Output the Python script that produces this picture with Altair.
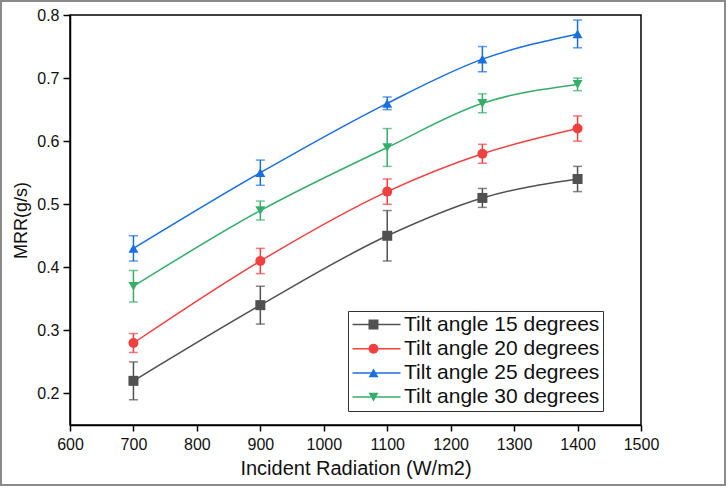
import altair as alt
import pandas as pd

# Incident radiation levels (W/m2)
radiation = [700, 900, 1100, 1250, 1400]

# Mass removal rate (g/s) and error half-widths for each tilt angle
series_names = [
    "Tilt angle 15 degrees",
    "Tilt angle 20 degrees",
    "Tilt angle 25 degrees",
    "Tilt angle 30 degrees",
]
marker_keys = ["15", "20", "25", "30"]
mrr_15 = [0.22, 0.34, 0.45, 0.51, 0.54]
err_15 = [0.03, 0.03, 0.04, 0.015, 0.02]
mrr_20 = [0.28, 0.41, 0.52, 0.58, 0.62]
err_20 = [0.015, 0.02, 0.02, 0.015, 0.02]
mrr_25 = [0.43, 0.55, 0.66, 0.73, 0.77]
err_25 = [0.02, 0.02, 0.01, 0.02, 0.022]
mrr_30 = [0.37, 0.49, 0.59, 0.66, 0.69]
err_30 = [0.025, 0.015, 0.03, 0.015, 0.01]

colors = ["#515151", "#F14040", "#1A6FDF", "#37AD6B"]
shapes = ["square", "circle", "triangle-up", "triangle-down"]

x_ticks = list(range(600, 1501, 50))
y_ticks = [round(0.2 + 0.05 * i, 2) for i in range(13)]

rows = []
for name, key, vals, errs in zip(series_names, marker_keys,
                                 [mrr_15, mrr_20, mrr_25, mrr_30],
                                 [err_15, err_20, err_25, err_30]):
    for r, v, e in zip(radiation, vals, errs):
        rows.append({"radiation": r, "mrr": v, "lo": v - e, "hi": v + e,
                     "series": name, "marker": key})
df = pd.DataFrame(rows)

font = "Liberation Sans"
legend_font_size = 21
legend_row_padding = 2.2

x_major = "datum.value % 100 === 0"
y_major = "abs(datum.value * 10 - round(datum.value * 10)) < 1e-6"

# Major ticks are solid; minor ticks are the same tick cut short by a dash
x_enc = alt.X(
    "radiation:Q",
    scale=alt.Scale(domain=[600, 1500], nice=False, zero=False),
    axis=alt.Axis(
        title="Incident Radiation (W/m2)",
        values=x_ticks,
        format="d",
        labelExpr=f"{x_major} ? datum.label : ''",
        tickSize=6,
        tickDash={"condition": {"test": x_major, "value": [6, 0]}, "value": [3, 20]},
        labelOverlap=False,
        labelFlush=False,
        grid=False,
        labelPadding=5,
        titlePadding=6,
    ),
)
y_scale = alt.Scale(domain=[0.15, 0.8], nice=False, zero=False)
y_axis = alt.Axis(
    title="MRR(g/s)",
    values=y_ticks,
    format=".1f",
    labelExpr=f"{y_major} ? datum.label : ''",
    tickSize=7,
    tickDash={"condition": {"test": y_major, "value": [7, 0]}, "value": [4, 20]},
    labelOverlap=False,
    labelFlush=False,
    grid=False,
    labelPadding=4,
    titlePadding=6,
)

base = alt.Chart(df)

# Legend line sample: a 48 px horizontal stroke around the symbol anchor
line_sample = "M-4.5,0H19.5"

lines = base.mark_line(interpolate="monotone", strokeWidth=1.5).encode(
    x=x_enc,
    y=alt.Y("mrr:Q", scale=y_scale, axis=y_axis),
    stroke=alt.Stroke(
        "series:N",
        scale=alt.Scale(domain=series_names, range=colors),
        legend=alt.Legend(
            title=None,
            orient="none",
            legendX=278,
            legendY=296,
            symbolType=line_sample,
            symbolSize=16,
            symbolStrokeWidth=1.5,
            symbolFillColor="transparent",
            labelFont=font,
            labelFontSize=legend_font_size,
            labelColor="#111111",
            labelLimit=400,
            labelOffset=32,
            rowPadding=legend_row_padding,
            padding=3,
            strokeColor="#333333",
            fillColor="white",
        ),
    ),
)

err_color = alt.Color("series:N", scale=alt.Scale(domain=series_names, range=colors), legend=None)

bars = base.mark_rule(strokeWidth=1.5).encode(
    x="radiation:Q", y=alt.Y("lo:Q", scale=y_scale), y2="hi:Q", color=err_color
)
caps_lo = base.mark_tick(orient="horizontal", size=9, thickness=1.5).encode(
    x="radiation:Q", y=alt.Y("lo:Q", scale=y_scale), color=err_color
)
caps_hi = base.mark_tick(orient="horizontal", size=9, thickness=1.5).encode(
    x="radiation:Q", y=alt.Y("hi:Q", scale=y_scale), color=err_color
)

# Markers; their legend sits over the line legend with hidden labels
points = base.mark_point(filled=True, size=100, opacity=1).encode(
    x="radiation:Q",
    y=alt.Y("mrr:Q", scale=y_scale),
    fill=alt.Fill(
        "marker:N",
        scale=alt.Scale(domain=marker_keys, range=colors),
        legend=alt.Legend(
            title=None,
            orient="none",
            legendX=290,
            legendY=296,
            symbolSize=100,
            symbolStrokeWidth=0,
            labelFont=font,
            labelFontSize=legend_font_size,
            labelOpacity=0,
            labelOffset=6,
            rowPadding=legend_row_padding,
            padding=3,
        ),
    ),
    shape=alt.Shape("marker:N", scale=alt.Scale(domain=marker_keys, range=shapes)),
)

# Thin grey frame around the whole figure
frame = base.mark_rect(fill=None, stroke="#8a8a8a", strokeWidth=1.5).encode(
    x=alt.value(-69), x2=alt.value(655), y=alt.value(-14), y2=alt.value(470)
)

chart = (
    alt.layer(frame, lines, bars, caps_lo, caps_hi, points)
    .properties(width=571, height=410, padding=0)
    .configure_view(stroke="black", strokeWidth=1.5)
    .configure_axis(
        domainColor="black",
        domainWidth=1.5,
        tickColor="black",
        tickWidth=1.5,
        labelFont=font,
        labelFontSize=16,
        labelColor="#111111",
        titleFont=font,
        titleFontWeight="normal",
        titleColor="#111111",
    )
    .configure_axisX(titleFontSize=20)
    .configure_axisY(titleFontSize=18)
)

chart.save("out.html", embed_options={"renderer": "svg", "actions": False})
